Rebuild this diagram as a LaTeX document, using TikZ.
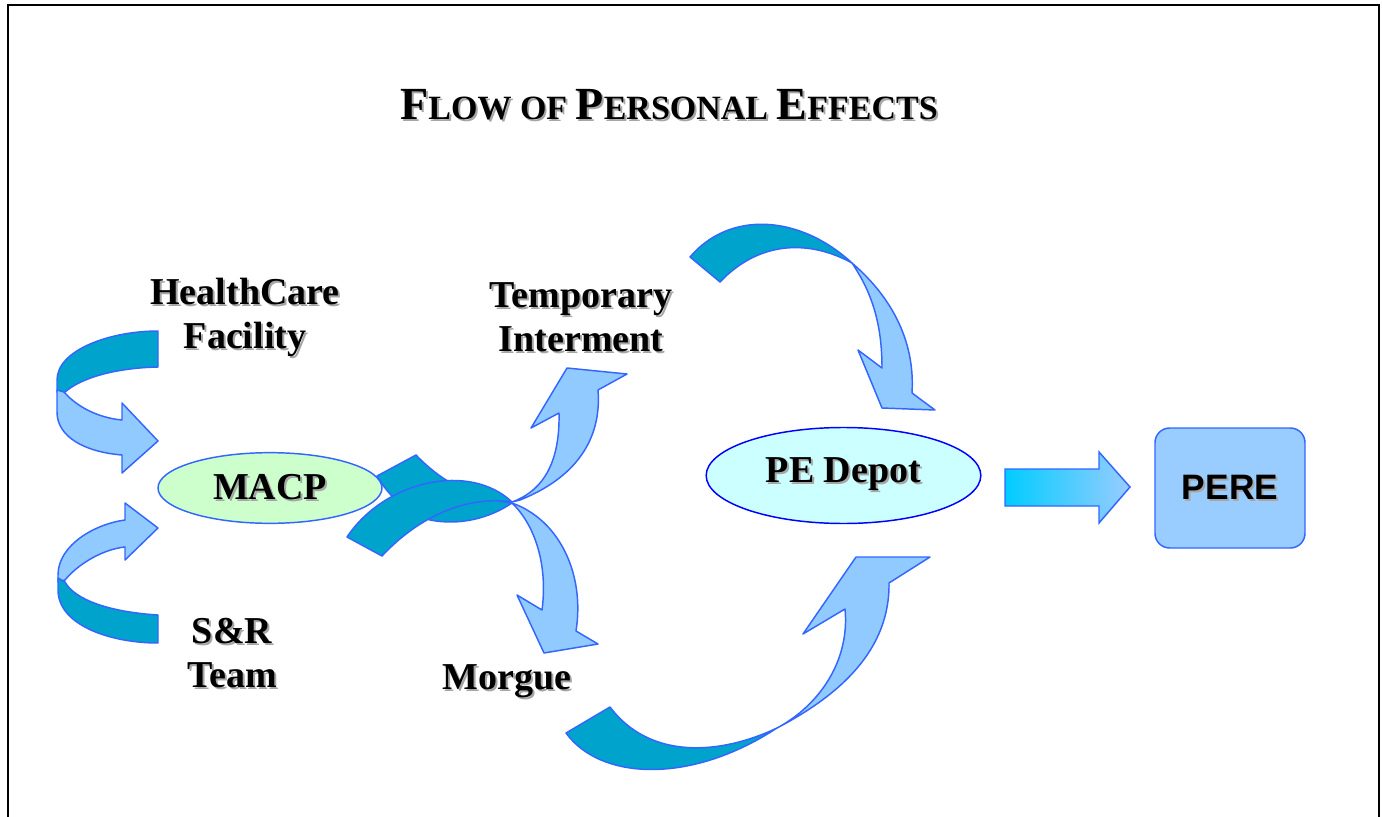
\documentclass[tikz,border=0pt]{standalone}
\usepackage{fontspec}
\setmainfont{Liberation Serif}
\newfontfamily\arialfont{Liberation Sans}
\usetikzlibrary{shapes.geometric}

\definecolor{ribbonDark}{RGB}{0,163,204}
\definecolor{ribbonLight}{RGB}{145,202,255}
\definecolor{ribbonEdge}{RGB}{51,102,255}
\definecolor{macpGreen}{RGB}{204,255,204}
\definecolor{depotCyan}{RGB}{204,255,255}
\definecolor{depotEdge}{RGB}{0,0,255}
\definecolor{pereBlue}{RGB}{153,204,255}
\definecolor{arrowCyan}{RGB}{0,204,255}

%% text with a soft grey drop shadow
\newcommand\shd[1]{\leavevmode\rlap{\kern1.5pt\raisebox{-1.5pt}{\textcolor{black!35}{#1}}}#1}

\begin{document}
\begin{tikzpicture}
[x=0.75pt,y=-0.75pt,
  ribbonBack/.style={fill=ribbonDark,draw=ribbonEdge,line width=1.1pt,line join=round},%
  ribbonFront/.style={fill=ribbonLight,draw=ribbonEdge,line width=1.1pt,line join=round},%
  labelText/.style={font=\fontsize{28.5}{33}\selectfont\bfseries,align=center,inner sep=0pt},%
  placeOval/.style={ellipse,draw=ribbonEdge,line width=1.1pt,inner sep=0pt},%
  frameLine/.style={line width=1.5pt}]
\useasboundingbox (0,0) rectangle (1382,817);
%% page frame
\draw[frameLine] (8,817) -- (8,5) -- (1379,5) -- (1379,817);
%% title
\node (title) at (669,106) [inner sep=0pt,font=\bfseries]
  {\shd{{\fontsize{34.5}{40}\selectfont F}{\fontsize{25.5}{30}\selectfont LOW OF }%
  {\fontsize{34.5}{40}\selectfont P}{\fontsize{25.5}{30}\selectfont ERSONAL }%
  {\fontsize{34.5}{40}\selectfont E}{\fontsize{25.5}{30}\selectfont FFECTS}}};
%% sources
\node (care) at (245,318) [labelText] {\shd{HealthCare}\\\shd{Facility}};
\node (team) at (232,654) [labelText] {\shd{S\&R}\\\shd{Team}};
\node (burial) at (581,318) [labelText] {\shd{Temporary}\\\shd{Interment}};
\node (morgue) at (507,682) [labelText] {\shd{Morgue}};
%% ribbon from healthcare into MACP
\draw[ribbonBack] (158,331) .. controls (110,331) and (57,350) .. (57,380) --
(57,392) -- (64,393) .. controls (80,378) and (115,368) .. (158,367) -- cycle;
\draw[ribbonFront] (57,390) -- (64,392) .. controls (78,408) and (100,418) ..
(122,420) -- (122,403) -- (158,441) -- (122,473) -- (122,455) .. controls
(85,452) and (57,437) .. (57,412) -- cycle;
%% ribbon from search and rescue into MACP
\draw[ribbonFront] (158,528) -- (125,503) -- (125,520) .. controls (95,524)
and (58,545) .. (58,575) -- (58,582) -- (65,580) .. controls (80,562) and
(105,549) .. (125,547) -- (125,560) -- cycle;
\draw[ribbonBack] (58,578) -- (58,590) .. controls (58,625) and (110,643) ..
(158,643) -- (158,615) .. controls (110,612) and (75,600) .. (65,582) -- cycle;
%% back of the ribbon to the morgue, behind MACP
\draw[ribbonBack] (377,476) -- (416,455) .. controls (440,480) and (470,498) ..
(512,503) .. controls (490,518) and (460,526) .. (430,520) .. controls
(405,512) and (388,495) .. (377,476) -- cycle;
\node (macp) at (270,488) [placeOval,fill=macpGreen,minimum width=168pt,
  minimum height=53pt,font=\fontsize{28.5}{32}\selectfont\bfseries] {\shd{MACP}};
%% back of the ribbon to temporary interment
\draw[ribbonBack] (347,537) .. controls (385,480) and (470,462) .. (512,502)
.. controls (475,496) and (425,510) .. (382,556) -- cycle;
\draw[ribbonFront] (512,502) .. controls (545,490) and (560,460) .. (559,413)
-- (531,428) -- (567,368) -- (627,374) -- (598,390) .. controls (602,440) and
(575,478) .. (520,500) -- cycle;
\draw[ribbonFront] (512,503) .. controls (560,520) and (585,575) .. (576,631)
-- (598,644) -- (544,653) -- (517,595) -- (542,610) .. controls (548,565) and
(535,525) .. (512,503) -- cycle;
%% temporary interment to the depot
\draw[ribbonBack] (690,257) .. controls (730,210) and (800,215) .. (852,263)
.. controls (810,240) and (760,240) .. (720,282) -- cycle;
\draw[ribbonFront] (852,263) .. controls (895,300) and (915,345) .. (912,393)
-- (935,410) -- (882,408) -- (858,350) -- (882,368) .. controls (882,320) and
(870,290) .. (852,263) -- cycle;
%% morgue to the depot
\draw[ribbonBack] (566,733) .. controls (600,780) and (690,785) .. (777,728)
.. controls (720,755) and (650,760) .. (610,707) -- cycle;
\draw[ribbonFront] (777,728) .. controls (840,695) and (890,650) .. (889,583)
-- (930,557) -- (856,557) -- (803,634) -- (845,609) .. controls (850,660) and
(820,705) .. (777,728) -- cycle;
%% depot and PERE
\node (depot) at (843.5,475.5) [placeOval,draw=depotEdge,fill=depotCyan,
  minimum width=206pt,minimum height=72pt,labelText] {\shd{PE Depot}};
\node (pere) at (1230,488) [draw=ribbonEdge,line width=1.1pt,fill=pereBlue,
  rounded corners=11pt,minimum width=112.5pt,minimum height=90pt,
  font=\arialfont\fontsize{26.5}{30}\selectfont\bfseries] {\shd{PERE}};
\shade[left color=arrowCyan,right color=pereBlue,draw=ribbonEdge,line width=1.1pt]
(1005,469) -- (1099,469) -- (1099,452) -- (1130,487) -- (1099,523) --
(1099,506) -- (1005,506) -- cycle;
\end{tikzpicture}
\end{document}
